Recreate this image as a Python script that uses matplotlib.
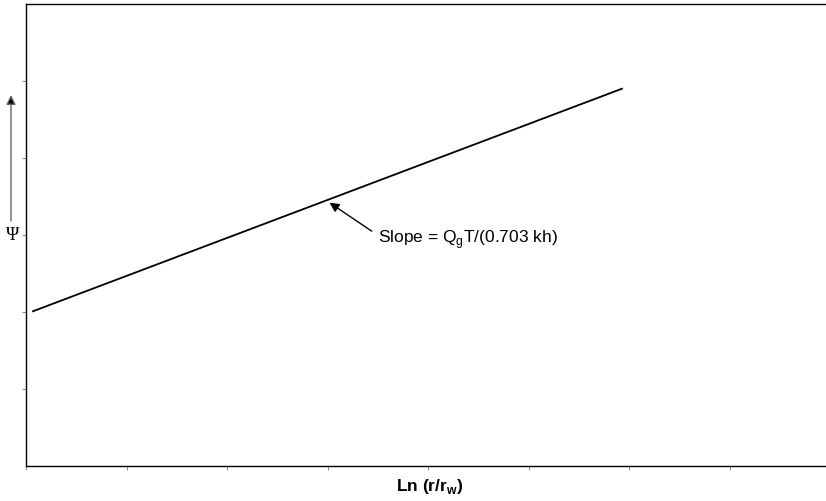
import matplotlib.pyplot as plt

# straight line Psi vs Ln(r/rw), arbitrary units
line_x = [0.07, 5.93]
line_y = [2.01, 4.90]

x_ticks = [0, 1, 2, 3, 4, 5, 6, 7]
y_ticks = [1, 2, 3, 4, 5]

fig = plt.figure(figsize=(8.26, 5.02), dpi=100)
ax = fig.add_axes([26 / 826, 35 / 502, 801 / 826, 462 / 502])

ax.plot(line_x, line_y, color='black', linewidth=1.3)

ax.set_xlim(0, 7.97)
ax.set_ylim(0, 6)
ax.set_xticks(x_ticks)
ax.set_yticks(y_ticks)
ax.set_xticklabels([])
ax.set_yticklabels([])
ax.tick_params(direction='out', length=3, width=0.6, color='#777777')
for side in ['left', 'bottom', 'top']:
    ax.spines[side].set_linewidth(1.0)
ax.spines['right'].set_visible(False)

# slope label with its pointer
ax.annotate('', xy=(3.02, 3.42), xytext=(3.44, 3.05),
            arrowprops=dict(arrowstyle='-|>', color='black', lw=1.0,
                            mutation_scale=14, shrinkA=0, shrinkB=0))
ax.text(3.50, 2.96, 'Slope = Q$_\\mathregular{g}$T/(0.703 kh)', fontsize=12.5,
        family='Liberation Sans', va='center', ha='left')

# axis labels placed as in the figure
fig.text(430 / 826, 1 - 487 / 502, 'Ln (r/r$_\\mathregular{w}$)', fontsize=12.5,
         fontweight='bold', family='Liberation Sans', ha='center', va='center')
fig.text(13 / 826, 1 - 236 / 502, '\u03a8', fontsize=13,
         family='Liberation Serif', ha='center', va='center')
ax.annotate('', xy=(11 / 826, 1 - 96 / 502), xytext=(11 / 826, 1 - 222 / 502),
            xycoords='figure fraction', textcoords='figure fraction',
            arrowprops=dict(arrowstyle='-|>', color='#666666', lw=1.0,
                            fc='black', ec='#666666',
                            mutation_scale=14, shrinkA=0, shrinkB=0),
            annotation_clip=False)

fig.savefig('out.png', dpi=100)
